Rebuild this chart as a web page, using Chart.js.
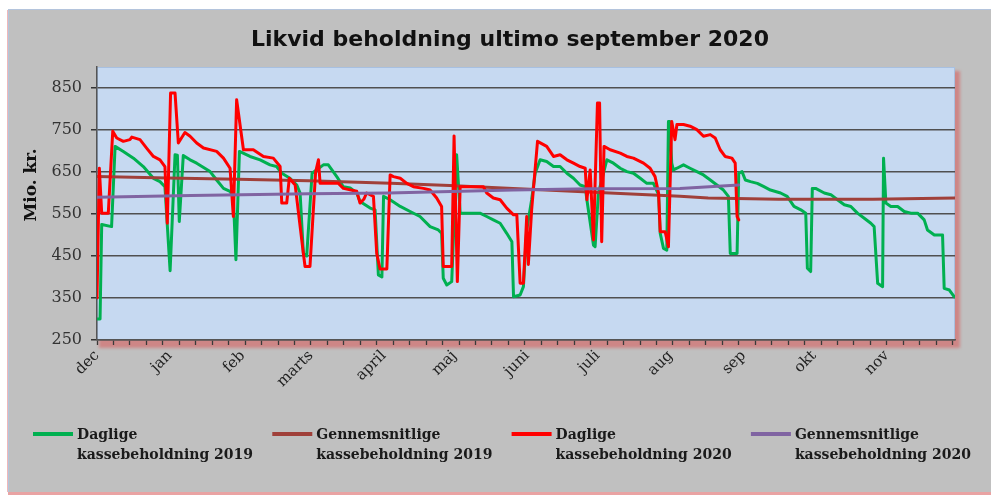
<!DOCTYPE html>
<html><head><meta charset="utf-8">
<script src="https://cdn.jsdelivr.net/npm/chart.js@4.4.0/dist/chart.umd.min.js"></script>
<style>html,body{margin:0;padding:0;background:#fff;}#wrap{width:991px;height:495px;}</style>
</head><body><div id="wrap"><canvas id="c" width="991" height="495"></canvas></div>
<script>
// ---- data (x = day index from 1 December, y = mio. kr.) ----
const monthLabels = ['dec','jan','feb','marts','april','maj','juni','juli','aug','sep','okt','nov'];
const monthStartDays = [0,31,62,91,122,152,183,213,244,275,305,336];
const yTickValues = [250,350,450,550,650,750,850];

const daily2019Days = [0,1.3,2,6.2,7.7,11.2,15.5,19.7,24,26.8,28.9,31.1,33.2,34.2,35,36.7,39.6,42.4,48.1,50.9,53.8,56.6,58,59.1,60.6,65.1,69.4,73.6,76.4,78.6,82.1,85,86.4,87.8,89.2,91.5,96.3,98.4,102,104.8,107.7,110.5,111.9,116.2,118.3,119.7,121.2,121.9,124.7,129,133.2,137.4,141.7,145.2,146.6,147.3,148.8,150.9,153,154.5,162.9,165.8,168.6,171.5,174.3,176.5,177.2,180,181.4,182.8,184.9,186.4,188.5,191.3,194.2,197,199.9,202.7,205.5,207.7,208.4,211.2,211.9,213.3,216.9,219.7,222.6,225.4,228.2,231.1,233.9,236.7,238.9,239.6,241,242.4,243.1,243.6,244.5,245.2,246.7,249.5,252.3,255.2,258,260.9,263.7,266.5,268.6,269.4,272.3,273,274.4,275.8,278,280.9,283.7,286.5,290.8,293.6,296.5,299.4,301.5,302.2,303.6,304.3,305.7,309.4,312.2,315,317.9,320.7,323.5,326.4,329.2,330.6,332.1,334.2,334.6,335.6,337.7,340.6,343.4,346.2,349.1,351.9,353.3,356.2,359.7,360.4,362.6,364.7];
const daily2019Values = [300,300,525,520,711,699,683,663,635,627,615,415,691,690,532,689,679,671,651,631,611,604,590,441,699,687,679,667,663,647,635,619,600,456,450,647,667,667,639,615,612,600,580,564,560,405,400,592,584,568,556,544,520,512,504,397,381,389,691,552,552,544,536,528,504,484,353,357,377,512,584,647,679,675,663,663,647,635,619,615,584,476,472,600,679,671,659,651,647,635,623,623,596,504,468,464,770,770,671,655,659,667,659,651,643,631,619,607,592,456,456,647,651,631,627,623,615,607,600,592,568,560,552,421,413,611,611,600,596,584,572,568,552,540,528,520,385,377,683,576,568,568,556,552,552,536,512,500,500,373,369,353];

const avg2019Days = [0,30,60,90,125,150,177,200,225,248,260,290,330,365];
const avg2019Values = [639,636,633,629,623,618,611,605,598,592,588,585,585,588];

const daily2020Days = [0,1,2,4.8,6.7,8.4,11.2,14,14.8,18.3,21.1,24,26.8,28.9,29.9,31.3,33.2,34.6,37.4,39.6,42.4,45.3,50.9,53.8,56.6,58,59.4,62.3,66.5,70.8,75,77.9,78.6,80.7,81.8,84.3,87.8,88.5,90.6,93,94.2,94.9,102.7,104.8,110.5,111.9,113.5,114.7,117.6,119,120.4,123.3,124.7,126.1,129,131.8,134.6,138.9,141.7,144.5,146.6,147.3,150.9,151.9,153.3,154.5,164.4,165.8,168.6,171.5,174.3,177.2,178.6,180,181.4,182.8,183.5,184.9,187.4,191.3,194.2,197,199.9,202.7,205.5,207.7,208.4,209.8,211.2,212.9,213.8,214.7,215.7,218.3,222.6,225.4,228.2,232.5,235.3,237.4,238.9,239.6,241.7,243.1,244.5,245.9,246.7,249.5,252.3,255.2,258,260.9,263,265.1,267.2,270.1,271.5,272.3,273];
const daily2020Values = [350,659,552,552,747,731,723,727,733,727,707,687,679,663,528,838,838,719,744,735,719,707,699,683,659,544,822,703,703,687,683,663,576,576,635,619,456,425,425,650,679,623,623,611,604,576,585,600,592,456,419,419,643,639,635,623,615,611,607,588,568,425,425,736,389,615,615,600,588,584,564,548,548,385,385,544,430,560,723,711,687,691,679,671,663,659,584,655,488,814,814,484,711,703,695,687,683,671,659,639,600,508,508,472,770,727,763,763,759,751,735,739,731,703,687,683,671,544,536];

const avg2020Days = [0,40,90,124,177,210,248,273];
const avg2020Values = [590,594,598,600,607,610,611,619];

const seriesLabels = ['Daglige\nkassebeholdning 2019','Gennemsnitlige\nkassebeholdning 2019','Daglige\nkassebeholdning 2020','Gennemsnitlige\nkassebeholdning 2020'];
const chartTitle = 'Likvid beholdning ultimo september 2020';
const yAxisTitle = 'Mio. kr.';

const toPoints = (xs, ys) => xs.map((x, i) => ({x: x, y: ys[i]}));

const bgPlugin = {
  id: 'bg',
  beforeDraw(chart) {
    const {ctx, chartArea: a, width, height} = chart;
    ctx.save();
    ctx.fillStyle = '#ffffff'; ctx.fillRect(0, 0, width, height);
    ctx.fillStyle = '#c0c0c0'; ctx.fillRect(8, 9, width - 8, 484);
    ctx.fillStyle = '#b4c4dc'; ctx.fillRect(8, 9, width - 8, 1); ctx.fillRect(8, 9, 1, 484);
    ctx.fillStyle = '#f0b8b8'; ctx.fillRect(7, 10, 1, 482);
    ctx.fillStyle = '#e9a3a3'; ctx.fillRect(8, 492, width - 8, 3);
    ctx.filter = 'blur(1.5px)';
    ctx.fillStyle = 'rgba(215,95,95,0.6)';
    ctx.fillRect(a.left + 2, a.top + 4, a.width + 3, a.height + 4);
    ctx.filter = 'none';
    ctx.fillStyle = '#c6d9f1'; ctx.fillRect(a.left, a.top, a.width, a.height);
    ctx.strokeStyle = '#a8c0e0'; ctx.lineWidth = 1;
    ctx.strokeRect(a.left + 0.5, a.top + 0.5, a.width - 1, a.height - 1);
    // chart title
    ctx.fillStyle = '#111';
    ctx.font = 'bold 22px "DejaVu Sans"';
    ctx.textAlign = 'center'; ctx.textBaseline = 'middle';
    ctx.fillText(chart.options.plugins.title.text, 510, 40);
    ctx.restore();
  },
  afterDraw(chart) {
    const {ctx} = chart;
    ctx.save();
    ctx.translate(32, 185);
    ctx.rotate(-Math.PI / 2);
    ctx.fillStyle = '#111';
    ctx.font = 'bold 17px "DejaVu Serif"';
    ctx.textAlign = 'center'; ctx.textBaseline = 'middle';
    ctx.fillText(chart.options.scales.y.title.text, 0, 0);
    ctx.restore();
    ctx.save();
    const x0 = 33, step = 239.3, yLine = 434;
    ctx.font = 'bold 14px "DejaVu Serif"';
    ctx.textAlign = 'left'; ctx.textBaseline = 'middle';
    chart.data.datasets.forEach((ds, k) => {
      const x = x0 + k * step;
      ctx.strokeStyle = ds.borderColor; ctx.lineWidth = 4; ctx.lineCap = 'butt';
      ctx.beginPath(); ctx.moveTo(x, yLine); ctx.lineTo(x + 40, yLine); ctx.stroke();
      ctx.fillStyle = '#1a1a1a';
      ds.label.split('\n').forEach((t, j) => ctx.fillText(t, x + 44, yLine + 1 + j * 20));
    });
    ctx.restore();
  }
};

new Chart(document.getElementById('c'), {
  type: 'line',
  data: {
    datasets: [
      {label: seriesLabels[0], data: toPoints(daily2019Days, daily2019Values), borderColor: '#00b050', order: 4},
      {label: seriesLabels[1], data: toPoints(avg2019Days, avg2019Values), borderColor: '#a0403a', order: 3},
      {label: seriesLabels[2], data: toPoints(daily2020Days, daily2020Values), borderColor: '#ff0000', order: 2},
      {label: seriesLabels[3], data: toPoints(avg2020Days, avg2020Values), borderColor: '#8064a2', order: 1}
    ]
  },
  options: {
    responsive: false,
    animation: false,
    devicePixelRatio: 1,
    elements: {
      point: {radius: 0, hoverRadius: 0},
      line: {borderWidth: 3, tension: 0, borderJoinStyle: 'round', borderCapStyle: 'round', fill: false}
    },
    layout: {padding: {left: 0, right: 36, top: 67, bottom: 95}},
    plugins: {
      legend: {display: false},
      tooltip: {enabled: false},
      title: {display: false, text: chartTitle}
    },
    scales: {
      x: {
        type: 'linear', min: 0, max: 365,
        afterBuildTicks: s => {
          const vals = new Set();
          for (let d = 0; d <= 365; d += 7) vals.add(d);
          monthStartDays.forEach(d => vals.add(d));
          s.ticks = [...vals].sort((a, b) => a - b).map(v => ({value: v}));
        },
        afterFit: s => { s.height = 60; },
        ticks: {
          autoSkip: false, minRotation: 45, maxRotation: 45, padding: 2,
          color: '#222', font: {family: '"DejaVu Serif"', size: 15},
          callback: v => { const i = monthStartDays.indexOf(v); return i >= 0 ? monthLabels[i] : ''; }
        },
        grid: {
          drawOnChartArea: false, drawTicks: true, tickLength: 5, tickWidth: 1.3,
          tickColor: c => (c.tick && c.tick.value % 7 === 0) ? '#3a3a3a' : 'rgba(0,0,0,0)'
        },
        border: {color: '#555', width: 1.5}
      },
      y: {
        min: 250, max: 900,
        title: {display: false, text: yAxisTitle},
        afterBuildTicks: s => { s.ticks = yTickValues.map(v => ({value: v})); },
        afterFit: s => { s.width = 97; },
        ticks: {color: '#333', padding: 9, font: {family: '"DejaVu Serif"', size: 16}},
        grid: {color: '#505050', lineWidth: 1.5, tickLength: 6, tickColor: '#333'},
        border: {color: '#555', width: 1.5}
      }
    }
  },
  plugins: [bgPlugin]
});
</script></body></html>
